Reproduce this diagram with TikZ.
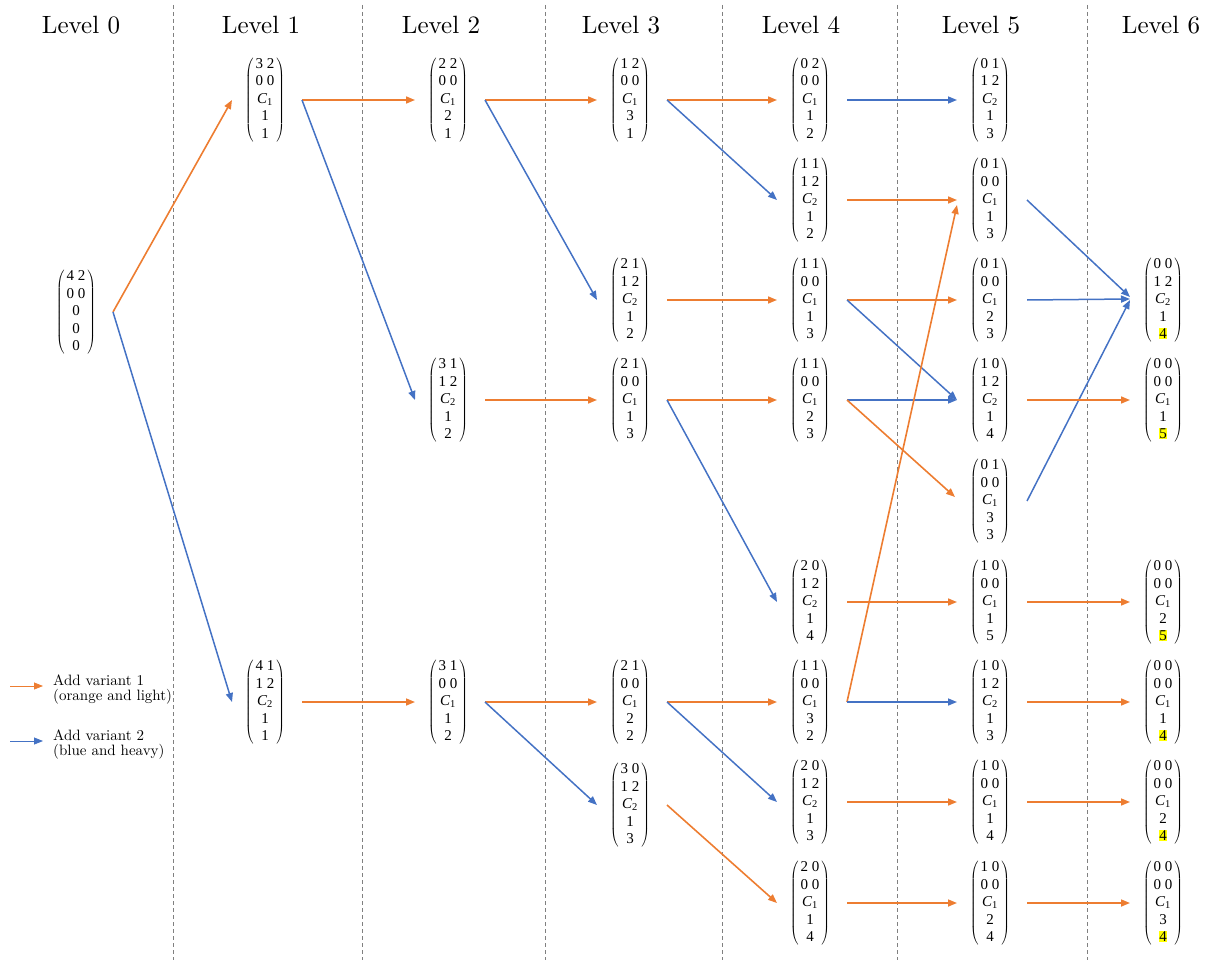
\documentclass[tikz,border=0pt]{standalone}
\usepackage{fontspec}
\setmainfont{lmroman10-regular.otf}[ItalicFont=lmroman10-italic.otf,BoldFont=lmroman10-bold.otf]
\newfontfamily\matfont{Liberation Serif}
\usetikzlibrary{arrows.meta,calc}
\definecolor{vorange}{HTML}{ED7D31}
\definecolor{vblue}{HTML}{4472C4}
\definecolor{hl}{HTML}{FFFF00}
\definecolor{sepgray}{HTML}{808080}
\newcommand\mtx[5]{$\left(\begin{tabular}{@{\hspace{2pt}}c@{\hspace{2pt}}}#1\\#2\\#3\\#4\\#5\end{tabular}\right)$}
\newcommand\Cs[1]{\textit{C}\textsubscript{#1}}
\newcommand\hlt[1]{{\setlength{\fboxsep}{0.6pt}\colorbox{hl}{#1}}}
\newcommand\edge[3]{\draw[#1] ([xshift=37pt]#2.center) -- ([xshift=-33pt]#3.center);}
\tikzset{
  mat/.style={inner sep=0pt, font=\matfont\fontsize{15}{17.5}\selectfont},
  lvtitle/.style={anchor=base, inner sep=0pt, font=\fontsize{25}{30}\selectfont},
  sepline/.style={draw=sepgray, dash pattern=on 4pt off 3pt, line width=0.8pt},
  va/.style={draw=vorange, line width=1.6pt, -{Triangle[length=9pt,width=7pt]}},
  vb/.style={draw=vblue, line width=1.5pt, -{Triangle[length=9pt,width=7pt]}},
  lega/.style={draw=vorange, line width=0.8pt, -{Triangle[length=9pt,width=7pt]}},
  legb/.style={draw=vblue, line width=0.8pt, -{Triangle[length=9pt,width=7pt]}},
  legtext/.style={anchor=north west, inner sep=0pt, align=left, font=\fontsize{15}{15}\selectfont}
}
\begin{document}
\begin{tikzpicture}[x=1pt,y=-1pt]
\useasboundingbox (0,0) rectangle (1210,963);
% separators
\foreach \sx in {173,362,545,722,897,1087}{\draw[sepline] (\sx,5) -- (\sx,960);}
% titles
\node[lvtitle] (t0) at (81,34) {Level 0};
\node[lvtitle] (t1) at (261,34) {Level 1};
\node[lvtitle] (t2) at (441,34) {Level 2};
\node[lvtitle] (t3) at (621,34) {Level 3};
\node[lvtitle] (t4) at (801,34) {Level 4};
\node[lvtitle] (t5) at (981,34) {Level 5};
\node[lvtitle] (t6) at (1161,34) {Level 6};
% level 0
\node[mat] (L0) at (76,312) {\mtx{4~2}{0~0}{0}{0}{0}};
% level 1
\node[mat] (L1a) at (265,100) {\mtx{3~2}{0~0}{\Cs1}{1}{1}};
\node[mat] (L1b) at (265,702) {\mtx{4~1}{1~2}{\Cs2}{1}{1}};
% level 2
\node[mat] (L2a) at (448,100) {\mtx{2~2}{0~0}{\Cs1}{2}{1}};
\node[mat] (L2b) at (448,400) {\mtx{3~1}{1~2}{\Cs2}{1}{2}};
\node[mat] (L2c) at (448,702) {\mtx{3~1}{0~0}{\Cs1}{1}{2}};
% level 3
\node[mat] (L3a) at (630,100) {\mtx{1~2}{0~0}{\Cs1}{3}{1}};
\node[mat] (L3b) at (630,300) {\mtx{2~1}{1~2}{\Cs2}{1}{2}};
\node[mat] (L3c) at (630,400) {\mtx{2~1}{0~0}{\Cs1}{1}{3}};
\node[mat] (L3d) at (630,702) {\mtx{2~1}{0~0}{\Cs1}{2}{2}};
\node[mat] (L3e) at (630,805) {\mtx{3~0}{1~2}{\Cs2}{1}{3}};
% level 4
\node[mat] (L4a) at (810,100) {\mtx{0~2}{0~0}{\Cs1}{1}{2}};
\node[mat] (L4b) at (810,200) {\mtx{1~1}{1~2}{\Cs2}{1}{2}};
\node[mat] (L4c) at (810,300) {\mtx{1~1}{0~0}{\Cs1}{1}{3}};
\node[mat] (L4d) at (810,400) {\mtx{1~1}{0~0}{\Cs1}{2}{3}};
\node[mat] (L4e) at (810,602) {\mtx{2~0}{1~2}{\Cs2}{1}{4}};
\node[mat] (L4f) at (810,702) {\mtx{1~1}{0~0}{\Cs1}{3}{2}};
\node[mat] (L4g) at (810,802) {\mtx{2~0}{1~2}{\Cs2}{1}{3}};
\node[mat] (L4h) at (810,903) {\mtx{2~0}{0~0}{\Cs1}{1}{4}};
% level 5
\node[mat] (L5a) at (990,100) {\mtx{0~1}{1~2}{\Cs2}{1}{3}};
\node[mat] (L5b) at (990,200) {\mtx{0~1}{0~0}{\Cs1}{1}{3}};
\node[mat] (L5c) at (990,300) {\mtx{0~1}{0~0}{\Cs1}{2}{3}};
\node[mat] (L5d) at (990,400) {\mtx{1~0}{1~2}{\Cs2}{1}{4}};
\node[mat] (L5e) at (990,501) {\mtx{0~1}{0~0}{\Cs1}{3}{3}};
\node[mat] (L5f) at (990,602) {\mtx{1~0}{0~0}{\Cs1}{1}{5}};
\node[mat] (L5g) at (990,702) {\mtx{1~0}{1~2}{\Cs2}{1}{3}};
\node[mat] (L5h) at (990,802) {\mtx{1~0}{0~0}{\Cs1}{1}{4}};
\node[mat] (L5i) at (990,903) {\mtx{1~0}{0~0}{\Cs1}{2}{4}};
% level 6
\node[mat] (L6a) at (1163,300) {\mtx{0~0}{1~2}{\Cs2}{1}{\hlt{4}}};
\node[mat] (L6b) at (1163,400) {\mtx{0~0}{0~0}{\Cs1}{1}{\hlt{5}}};
\node[mat] (L6c) at (1163,602) {\mtx{0~0}{0~0}{\Cs1}{2}{\hlt{5}}};
\node[mat] (L6d) at (1163,702) {\mtx{0~0}{0~0}{\Cs1}{1}{\hlt{4}}};
\node[mat] (L6e) at (1163,802) {\mtx{0~0}{0~0}{\Cs1}{2}{\hlt{4}}};
\node[mat] (L6f) at (1163,903) {\mtx{0~0}{0~0}{\Cs1}{3}{\hlt{4}}};
% edges
\edge{va}{L0}{L1a}
\edge{vb}{L0}{L1b}
\edge{va}{L1a}{L2a}
\edge{vb}{L1a}{L2b}
\edge{va}{L1b}{L2c}
\edge{va}{L2a}{L3a}
\edge{vb}{L2a}{L3b}
\edge{va}{L2b}{L3c}
\edge{va}{L2c}{L3d}
\edge{vb}{L2c}{L3e}
\edge{va}{L3a}{L4a}
\edge{vb}{L3a}{L4b}
\edge{va}{L3b}{L4c}
\edge{va}{L3c}{L4d}
\edge{vb}{L3c}{L4e}
\edge{va}{L3d}{L4f}
\edge{vb}{L3d}{L4g}
\edge{va}{L3e}{L4h}
\edge{vb}{L4a}{L5a}
\edge{va}{L4b}{L5b}
\edge{va}{L4c}{L5c}
\edge{vb}{L4c}{L5d}
\edge{vb}{L4d}{L5d}
\draw[va] ([xshift=37pt]L4d.center) -- ([xshift=-35pt,yshift=4pt]L5e.center);
\edge{va}{L4e}{L5f}
\draw[va] ([xshift=37pt]L4f.center) -- ([xshift=-33pt,yshift=-5pt]L5b.center);
\edge{vb}{L4f}{L5g}
\edge{va}{L4g}{L5h}
\edge{va}{L4h}{L5i}
\draw[vb] ([xshift=37pt]L5b.center) -- ([xshift=-33pt,yshift=3pt]L6a.center);
\draw[vb] ([xshift=37pt]L5c.center) -- ([xshift=-33pt,yshift=1pt]L6a.center);
\draw[vb] ([xshift=37pt]L5e.center) -- ([xshift=-33pt]L6a.center);
\edge{va}{L5d}{L6b}
\edge{va}{L5f}{L6c}
\edge{va}{L5g}{L6d}
\edge{va}{L5h}{L6e}
\edge{va}{L5i}{L6f}
% legend
\coordinate (la1) at (10,686);
\coordinate (la2) at (43,686);
\coordinate (lb1) at (10,741);
\coordinate (lb2) at (43,741);
\draw[lega] (la1) -- (la2);
\draw[legb] (lb1) -- (lb2);
\node[legtext] (lta) at (53,675) {Add variant 1\\(orange and light)};
\node[legtext] (ltb) at (53,730) {Add variant 2\\(blue and heavy)};
\end{tikzpicture}
\end{document}
